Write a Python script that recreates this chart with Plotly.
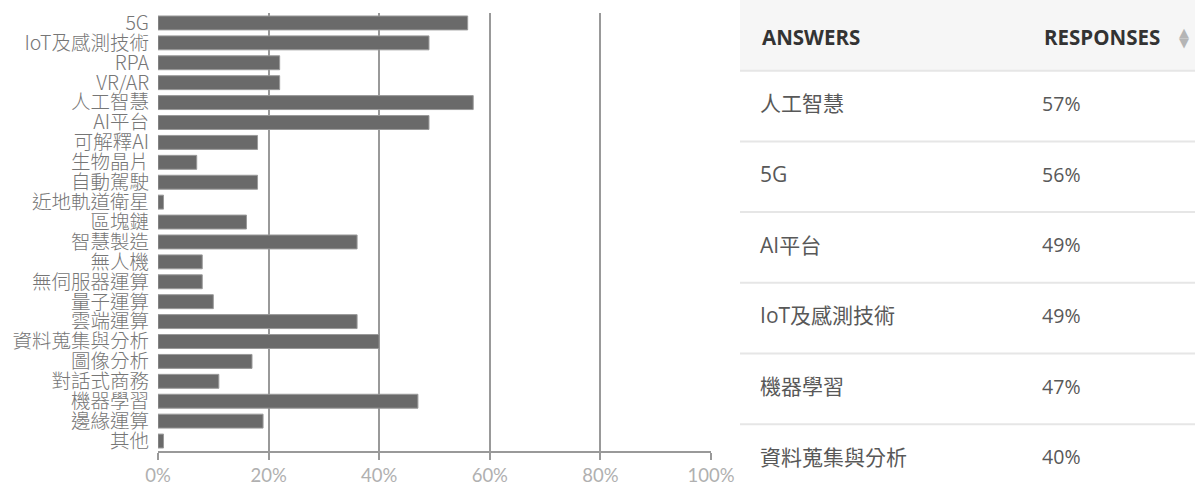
import plotly.graph_objects as go

W, H = 1195, 486

categories = ["5G", "IoT及感測技術", "RPA", "VR/AR", "人工智慧", "AI平台", "可解釋AI", "生物晶片",
              "自動駕駛", "近地軌道衛星", "區塊鏈", "智慧製造", "無人機", "無伺服器運算", "量子運算",
              "雲端運算", "資料蒐集與分析", "圖像分析", "對話式商務", "機器學習", "邊緣運算", "其他"]
values = [56, 49, 22, 22, 57, 49, 18, 7, 18, 1, 16, 36, 8, 8, 10, 36, 40, 17, 11, 47, 19, 1]
tick_vals = [0, 20, 40, 60, 80, 100]
tick_text = ["0%", "20%", "40%", "60%", "80%", "100%"]

table_headers = ["ANSWERS", "RESPONSES"]
table_answers = ["人工智慧", "5G", "AI平台", "IoT及感測技術", "機器學習", "資料蒐集與分析"]
table_responses = [57, 56, 49, 49, 47, 40]

CJK = "Noto Sans CJK TC"
LAT = "Open Sans, Noto Sans CJK TC"

fig = go.Figure()

fig.add_trace(go.Bar(
    x=values, y=categories, orientation="h",
    marker=dict(color="#6a6a6a", line=dict(color="#9a9a9a", width=1)),
    xaxis="x", yaxis="y", showlegend=False, hoverinfo="x+y",
))

n_rows = len(table_answers)
row_pos = [i + 1.5 for i in range(n_rows)]
fig.add_trace(go.Scatter(
    x=[0.044] * n_rows, y=row_pos, text=table_answers, mode="text",
    textposition="middle right", textfont=dict(family=LAT, size=21, color="#585858"),
    xaxis="x2", yaxis="y2", showlegend=False, hoverinfo="skip",
))
fig.add_trace(go.Scatter(
    x=[0.664] * n_rows, y=row_pos, text=[f"{v}%" for v in table_responses], mode="text",
    textposition="middle right", textfont=dict(family=LAT, size=19.5, color="#585858"),
    xaxis="x2", yaxis="y2", showlegend=False, hoverinfo="skip",
))

row_h = 70.7
tbl_x0 = 740 / W

shapes = [dict(type="rect", xref="x2", yref="y2", x0=0, x1=1, y0=0, y1=1,
               fillcolor="#f6f6f6", line=dict(width=0), layer="below")]
for i in range(1, n_rows + 1):
    shapes.append(dict(type="line", xref="x2", yref="y2", x0=0, x1=1, y0=i, y1=i,
                       line=dict(color="#e6e6e6", width=2)))

annotations = [
    dict(xref="x2", yref="y2", x=0.044, y=0.52, text="<b>" + table_headers[0] + "</b>",
         showarrow=False, xanchor="left", yanchor="middle",
         font=dict(family=LAT, size=20.5, color="#333333")),
    dict(xref="x2", yref="y2", x=0.664, y=0.52, text="<b>" + table_headers[1] + "</b>",
         showarrow=False, xanchor="left", yanchor="middle",
         font=dict(family=LAT, size=20.5, color="#333333")),
    dict(xref="x2", yref="y2", x=0.975, y=0.46, text="▲",
         showarrow=False, xanchor="center", yanchor="middle",
         font=dict(family="DejaVu Sans", size=13, color="#b5b5b5")),
    dict(xref="x2", yref="y2", x=0.975, y=0.6, text="▼",
         showarrow=False, xanchor="center", yanchor="middle",
         font=dict(family="DejaVu Sans", size=13, color="#b5b5b5")),
]

fig.update_layout(
    width=W, height=H,
    margin=dict(l=0, r=0, t=0, b=0, pad=0, autoexpand=False),
    paper_bgcolor="white", plot_bgcolor="white",
    bargap=0.3,
    shapes=shapes, annotations=annotations,
    xaxis=dict(domain=[158 / W, 711 / W], range=[0, 100], tickvals=tick_vals, ticktext=tick_text,
               showgrid=True, gridcolor="#999999", gridwidth=2,
               ticks="outside", ticklen=7, tickcolor="#999999", tickwidth=2,
               showline=True, linecolor="#999999", linewidth=2,
               zeroline=False, fixedrange=True, automargin=False, anchor="y",
               tickfont=dict(family="Lato, Open Sans", size=18.5, color="#b0b0b0")),
    yaxis=dict(domain=[1 - 451 / H, 1 - 13 / H], autorange="reversed",
               categoryorder="array", categoryarray=categories,
               tickmode="array", tickvals=categories,
               showgrid=False, zeroline=False, showline=False, ticks="",
               ticklabelstandoff=8, fixedrange=True, automargin=False, anchor="x",
               tickfont=dict(family=CJK, size=19.5, color="#767676", weight=300)),
    xaxis2=dict(domain=[tbl_x0, 1], range=[0, 1], visible=False, fixedrange=True,
                anchor="y2", automargin=False),
    yaxis2=dict(domain=[0, 1], range=[H / row_h, 0], visible=False, fixedrange=True,
                anchor="x2", automargin=False),
)

fig.write_html("out.html", config={"displayModeBar": False},
               post_script="document.body.style.margin='0';document.body.style.overflow='hidden';")
